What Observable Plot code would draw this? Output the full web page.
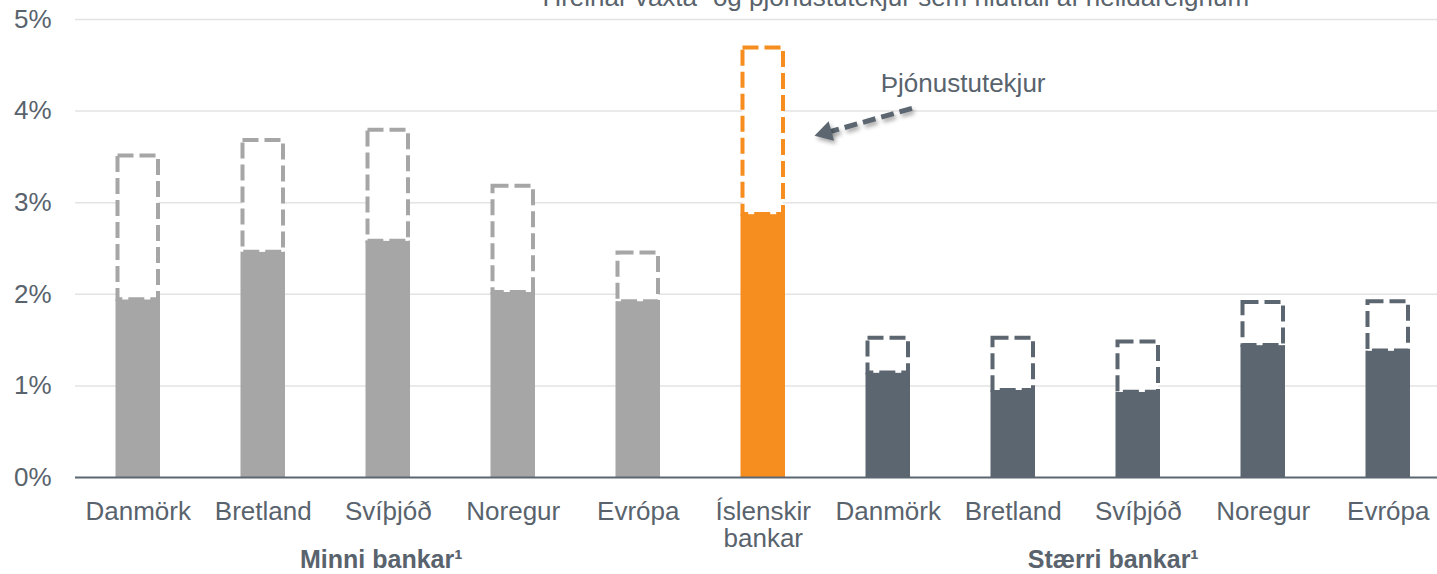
<!DOCTYPE html>
<html>
<head>
<meta charset="utf-8">
<script src="https://cdn.jsdelivr.net/npm/d3@7"></script>
<script src="https://cdn.jsdelivr.net/npm/@observablehq/plot@0.6"></script>
<style>
  html, body { margin: 0; padding: 0; background: #ffffff; }
  #chart { position: relative; width: 1437px; height: 574px; overflow: hidden; }
  #chart > svg, #chart > figure { position: absolute; left: 0; top: 0; margin: 0; }
  .arrow-layer g[aria-label="link"], .arrow-layer g[aria-label="dot"] {
    filter: drop-shadow(2px 3px 2px rgba(0,0,0,0.35));
  }
</style>
</head>
<body>
<div id="chart"></div>
<script>
// ---------- data ----------
const keys = ["m-dk", "m-uk", "m-se", "m-no", "m-eu", "is", "s-dk", "s-uk", "s-se", "s-no", "s-eu"];
const labels = ["Danmörk", "Bretland", "Svíþjóð", "Noregur", "Evrópa", "Íslenskir\nbankar",
                "Danmörk", "Bretland", "Svíþjóð", "Noregur", "Evrópa"];
const groupOf = ["minni", "minni", "minni", "minni", "minni", "is",
                 "staerri", "staerri", "staerri", "staerri", "staerri"];
// net interest income as % of total assets (solid part)
const netInterest = [1.94, 2.46, 2.58, 2.02, 1.92, 2.87, 1.14, 0.95, 0.93, 1.44, 1.38];
// net interest + fee income as % of total assets (top of dashed part)
const totalIncome = [3.51, 3.68, 3.79, 3.18, 2.45, 4.69, 1.52, 1.52, 1.48, 1.91, 1.92];
const yTicks = [0, 1, 2, 3, 4, 5];
const groupNames = ["Minni bankar¹", "Stærri bankar¹"];
const groupAnchors = ["m-se", "s-se"];
const titleText = "Hreinar vaxta- og þjónustutekjur sem hlutfall af heildareignum";
const noteText = "Þjónustutekjur";

// ---------- styling / layout ----------
const W = 1437, H = 574;
const mL = 75, mR = 0, mT = 19, mB = 97;
const padInner = 0.644, padOuter = 0.27, bandAlign = 0.6;
const textColor = "#59636d";
const font = "'Liberation Sans', Arial, Helvetica, sans-serif";
const colorDomain = ["minni", "is", "staerri"];
const colorRange = ["#a6a6a6", "#f68d1f", "#5c6670"];

const rows = keys.map((k, i) => ({
  key: k, label: labels[i], group: groupOf[i], net: netInterest[i], total: totalIncome[i]
}));

const main = Plot.plot({
  width: W, height: H,
  marginLeft: mL, marginRight: mR, marginTop: mT, marginBottom: mB,
  style: { fontFamily: font, fontSize: "26px", color: textColor, background: "white" },
  x: { domain: keys, paddingInner: padInner, paddingOuter: padOuter, align: bandAlign, round: false, axis: null },
  y: { domain: [0, 5], axis: null },
  color: { domain: colorDomain, range: colorRange },
  marks: [
    Plot.ruleY(yTicks.filter(d => d > 0), { stroke: "#e3e3e3", strokeWidth: 1.5 }),
    Plot.barY(rows, { x: "key", y: "net", fill: "group" }),
    Plot.barY(rows, {
      x: "key", y1: "net", y2: "total", fill: "white", stroke: "group",
      strokeWidth: 4, strokeDasharray: "16,6", insetLeft: 2, insetRight: 2
    }),
    Plot.ruleY([0], { stroke: "#5c6670", strokeWidth: 2 }),
    Plot.text(yTicks, {
      y: d => d, text: d => d + "%", frameAnchor: "left", textAnchor: "end",
      dx: -24, fill: textColor, fontSize: 26
    }),
    Plot.text(rows, {
      x: "key", text: "label", frameAnchor: "bottom", lineAnchor: "top",
      dy: 23, lineHeight: 1.05, fill: textColor, fontSize: 26
    }),
    Plot.text([groupNames[0]], {
      x: () => groupAnchors[0], text: d => d, frameAnchor: "bottom", lineAnchor: "bottom",
      dy: 90, dx: -7, fill: textColor, fontSize: 25, fontWeight: "bold"
    }),
    Plot.text([groupNames[1]], {
      x: () => groupAnchors[1], text: d => d, frameAnchor: "bottom", lineAnchor: "bottom",
      dy: 90, dx: -25, fill: textColor, fontSize: 25, fontWeight: "bold"
    })
  ]
});

// ---------- annotation layer: linear x in "category index" units aligned with the band scale ----------
const n = keys.length;
const span = W - mL - mR;
const bandStep = span / (n - padInner + 2 * padOuter);
const bandStart = mL + (span - bandStep * (n - padInner)) * bandAlign;
const c0 = bandStart + bandStep * (1 - padInner) / 2;
const uDomain = [(mL - c0) / bandStep, (W - mR - c0) / bandStep];

const titleAt = [{ u: 6.06, y: 5.15 }];
const noteAt = [{ u: 5.94, y: 4.30 }];
const arrowShaft = [{ u1: 6.19, y1: 4.03, u2: 5.52, y2: 3.77 }];
const arrowHead = [{ u: 5.50, y: 3.765 }];

const overlay = Plot.plot({
  width: W, height: H,
  marginLeft: mL, marginRight: mR, marginTop: mT, marginBottom: mB,
  style: { fontFamily: font, fontSize: "26px", color: textColor, background: "transparent" },
  x: { type: "linear", domain: uDomain, axis: null },
  y: { domain: [0, 5], axis: null },
  marks: [
    Plot.text(titleAt, { x: "u", y: "y", text: () => titleText, textAnchor: "middle",
      lineAnchor: "bottom", fill: textColor, fontSize: 26 }),
    Plot.text(noteAt, { x: "u", y: "y", text: () => noteText, textAnchor: "start",
      fill: textColor, fontSize: 26 }),
    Plot.link(arrowShaft, { x1: "u1", y1: "y1", x2: "u2", y2: "y2",
      stroke: "#5c6670", strokeWidth: 5, strokeDasharray: "13,6" }),
    Plot.dot(arrowHead, { x: "u", y: "y", symbol: "triangle", r: 7.5, rotate: 254.5,
      fill: "#5c6670", stroke: "none" })
  ]
});
overlay.classList.add("arrow-layer");
overlay.style.pointerEvents = "none";

const chart = document.getElementById("chart");
chart.appendChild(main);
chart.appendChild(overlay);
</script>
</body>
</html>
